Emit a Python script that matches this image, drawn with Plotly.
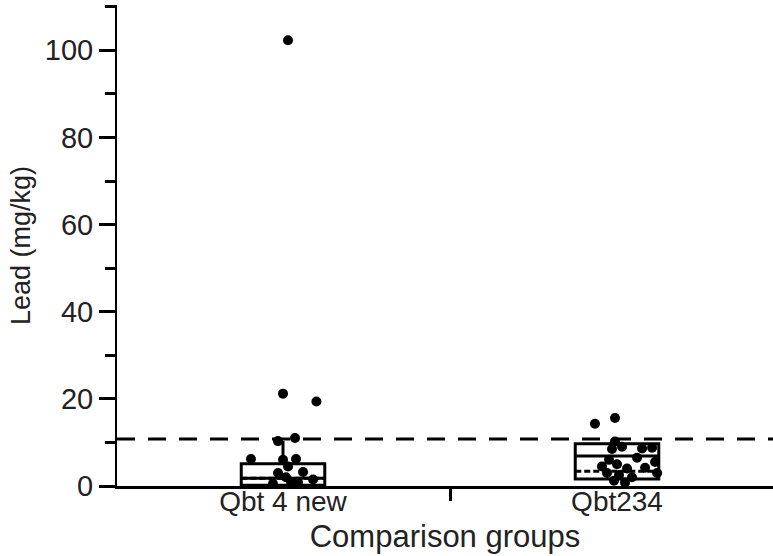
import plotly.graph_objects as go

# Groups and summary statistics for each box
groups = ["Qbt 4 new", "Qbt234"]
group_pos = [0, 1]
lower_fence = [0.0, 1.6]
q1 = [0.2, 1.6]
median = [1.8, 6.9]
q3 = [5.1, 9.7]
upper_fence = [10.3, 9.7]
mean_vals = [1.8, 3.4]

# Individual samples (horizontal jitter in category units, lead in mg/kg)
g1_jitter = [0.015, 0.0, 0.10, -0.015, 0.036, -0.096, 0.0, 0.039, 0.015, -0.015, 0.06, 0.09, 0.024, -0.03, 0.009, 0.045]
g1_lead = [102.3, 21.2, 19.4, 10.3, 11.0, 6.2, 6.0, 6.2, 4.5, 3.0, 3.2, 1.5, 1.0, 0.5, 2.0, 0.8]
g2_jitter = [-0.066, -0.006, -0.006, -0.015, 0.015, 0.075, 0.105, 0.06, 0.114, -0.024, 0.0, 0.03, 0.084, -0.03, 0.006, 0.045, -0.009, 0.024, 0.12, -0.045]
g2_lead = [14.3, 15.6, 10.2, 8.5, 9.0, 8.6, 8.8, 6.5, 5.5, 6.0, 5.0, 4.0, 4.2, 3.0, 2.5, 2.0, 1.2, 0.8, 3.0, 4.5]

THRESHOLD = 10.8

FONT = "Liberation Sans, Arial, sans-serif"

fig = go.Figure()

# Both boxes from precomputed statistics
fig.add_trace(go.Box(
    x=group_pos, q1=q1, median=median, q3=q3,
    lowerfence=lower_fence, upperfence=upper_fence,
    mean=mean_vals, boxmean=True,
    width=0.25, fillcolor="white",
    line=dict(color="black", width=3), whiskerwidth=0,
    boxpoints=False, showlegend=False, hoverinfo="skip",
))

# Jittered sample points
fig.add_trace(go.Scatter(
    x=[group_pos[0] + j for j in g1_jitter], y=g1_lead, mode="markers",
    marker=dict(color="black", size=10), showlegend=False,
))
fig.add_trace(go.Scatter(
    x=[group_pos[1] + j for j in g2_jitter], y=g2_lead, mode="markers",
    marker=dict(color="black", size=10), showlegend=False,
))

# Reference level
fig.add_shape(type="line", xref="paper", x0=0, x1=1, yref="y",
              y0=THRESHOLD, y1=THRESHOLD,
              line=dict(color="black", width=3, dash="18px,13px"))

fig.update_layout(
    width=773, height=556,
    margin=dict(l=117, r=0, t=5, b=70),
    paper_bgcolor="white", plot_bgcolor="white",
    font=dict(family=FONT, color="#222", size=28),
    xaxis=dict(
        range=[-0.497, 1.467],
        tickvals=group_pos, ticktext=groups, ticks="", ticklen=0,
        tickfont=dict(size=28), ticklabelstandoff=-12,
        minor=dict(tickvals=[0.5], ticks="outside", ticklen=12, tickwidth=3, tickcolor="black"),
        showline=True, linecolor="black", linewidth=3,
        showgrid=False, zeroline=False,
        title=dict(text="Comparison groups", font=dict(size=31), standoff=10),
    ),
    yaxis=dict(
        range=[0, 110.4],
        tickvals=[0, 20, 40, 60, 80, 100],
        ticks="outside", ticklen=16, tickwidth=3, tickcolor="black",
        tickfont=dict(size=29),
        minor=dict(dtick=10, ticks="outside", ticklen=10, tickwidth=3, tickcolor="black"),
        showline=True, linecolor="black", linewidth=2,
        showgrid=False, zeroline=False,
        title=dict(text="Lead (mg/kg)", font=dict(size=27), standoff=6),
    ),
)

fig.write_html("out.html")
